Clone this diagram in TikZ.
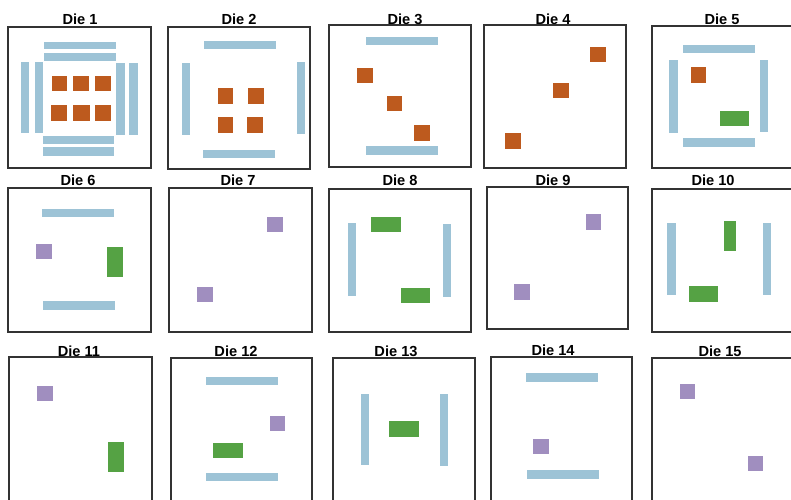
\documentclass[tikz,border=0pt]{standalone}
\usepackage{fontspec}
\setmainfont{Liberation Sans}
\definecolor{barblue}{HTML}{9DC3D6}
\definecolor{chiporange}{HTML}{BD5A1E}
\definecolor{chipgreen}{HTML}{55A244}
\definecolor{chippurple}{HTML}{A08EBF}
\definecolor{boxgray}{HTML}{333333}
\begin{document}
\begin{tikzpicture}[x=1pt,y=-1pt,
  diebox/.style={draw=boxgray,line width=1.4pt},
  bbar/.style={fill=barblue},
  osq/.style={fill=chiporange},
  gch/.style={fill=chipgreen},
  pch/.style={fill=chippurple},
  ttl/.style={font=\fontsize{14.6}{17}\selectfont\bfseries,anchor=base,inner sep=0pt}]
\useasboundingbox (0,0) rectangle (791,499);
\begin{scope}
\clip (0,0) rectangle (791,499);
% ---------- boxes ----------
\draw[diebox] (8,27) rectangle (151,168);
\draw[diebox] (168,27) rectangle (310,169);
\draw[diebox] (329,25) rectangle (471,167);
\draw[diebox] (484,25) rectangle (626,168);
\draw[diebox] (652,26) rectangle (800,168);
\draw[diebox] (8,188) rectangle (151,332);
\draw[diebox] (169,188) rectangle (312,332);
\draw[diebox] (329,189) rectangle (471,332);
\draw[diebox] (487,187) rectangle (628,329);
\draw[diebox] (652,189) rectangle (800,332);
\draw[diebox] (9,357) rectangle (152,510);
\draw[diebox] (171,358) rectangle (312,510);
\draw[diebox] (333,358) rectangle (475,510);
\draw[diebox] (491,357) rectangle (632,510);
\draw[diebox] (652,358) rectangle (800,510);
\end{scope}
% ---------- titles ----------
\node[ttl] (t1) at (80,24) {Die 1};
\node[ttl] (t2) at (239,24) {Die 2};
\node[ttl] (t3) at (405,24) {Die 3};
\node[ttl] (t4) at (553,24) {Die 4};
\node[ttl] (t5) at (722,24) {Die 5};
\node[ttl] (t6) at (78,185) {Die 6};
\node[ttl] (t7) at (238,185) {Die 7};
\node[ttl] (t8) at (400,185) {Die 8};
\node[ttl] (t9) at (553,185) {Die 9};
\node[ttl] (t10) at (713,185) {Die 10};
\node[ttl] (t11) at (79,356) {Die 11};
\node[ttl] (t12) at (236,356) {Die 12};
\node[ttl] (t13) at (396,356) {Die 13};
\node[ttl] (t14) at (553,355) {Die 14};
\node[ttl] (t15) at (720,356) {Die 15};
% ---------- Die 1 ----------
\fill[bbar] (44,42) rectangle (116,49);
\fill[bbar] (44,53) rectangle (116,61);
\fill[bbar] (43,136) rectangle (114,144);
\fill[bbar] (43,147) rectangle (114,156);
\fill[bbar] (21,62) rectangle (29,133);
\fill[bbar] (35,62) rectangle (43,133);
\fill[bbar] (116,63) rectangle (125,135);
\fill[bbar] (129,63) rectangle (138,135);
\fill[osq] (52,76) rectangle (67,91);
\fill[osq] (73,76) rectangle (89,91);
\fill[osq] (95,76) rectangle (111,91);
\fill[osq] (51,105) rectangle (67,121);
\fill[osq] (73,105) rectangle (90,121);
\fill[osq] (95,105) rectangle (111,121);
% ---------- Die 2 ----------
\fill[bbar] (204,41) rectangle (276,49);
\fill[bbar] (203,150) rectangle (275,158);
\fill[bbar] (182,63) rectangle (190,135);
\fill[bbar] (297,62) rectangle (305,134);
\fill[osq] (218,88) rectangle (233,104);
\fill[osq] (248,88) rectangle (264,104);
\fill[osq] (218,117) rectangle (233,133);
\fill[osq] (247,117) rectangle (263,133);
% ---------- Die 3 ----------
\fill[bbar] (366,37) rectangle (438,45);
\fill[bbar] (366,146) rectangle (438,155);
\fill[osq] (357,68) rectangle (373,83);
\fill[osq] (387,96) rectangle (402,111);
\fill[osq] (414,125) rectangle (430,141);
% ---------- Die 4 ----------
\fill[osq] (590,47) rectangle (606,62);
\fill[osq] (553,83) rectangle (569,98);
\fill[osq] (505,133) rectangle (521,149);
% ---------- Die 5 ----------
\fill[bbar] (683,45) rectangle (755,53);
\fill[bbar] (683,138) rectangle (755,147);
\fill[bbar] (669,60) rectangle (678,133);
\fill[bbar] (760,60) rectangle (768,132);
\fill[osq] (691,67) rectangle (706,83);
\fill[gch] (720,111) rectangle (749,126);
% ---------- Die 6 ----------
\fill[bbar] (42,209) rectangle (114,217);
\fill[bbar] (43,301) rectangle (115,310);
\fill[pch] (36,244) rectangle (52,259);
\fill[gch] (107,247) rectangle (123,277);
% ---------- Die 7 ----------
\fill[pch] (267,217) rectangle (283,232);
\fill[pch] (197,287) rectangle (213,302);
% ---------- Die 8 ----------
\fill[bbar] (348,223) rectangle (356,296);
\fill[bbar] (443,224) rectangle (451,297);
\fill[gch] (371,217) rectangle (401,232);
\fill[gch] (401,288) rectangle (430,303);
% ---------- Die 9 ----------
\fill[pch] (586,214) rectangle (601,230);
\fill[pch] (514,284) rectangle (530,300);
% ---------- Die 10 ----------
\fill[bbar] (667,223) rectangle (676,295);
\fill[bbar] (763,223) rectangle (771,295);
\fill[gch] (724,221) rectangle (736,251);
\fill[gch] (689,286) rectangle (718,302);
% ---------- Die 11 ----------
\fill[pch] (37,386) rectangle (53,401);
\fill[gch] (108,442) rectangle (124,472);
% ---------- Die 12 ----------
\fill[bbar] (206,377) rectangle (278,385);
\fill[bbar] (206,473) rectangle (278,481);
\fill[pch] (270,416) rectangle (285,431);
\fill[gch] (213,443) rectangle (243,458);
% ---------- Die 13 ----------
\fill[bbar] (361,394) rectangle (369,465);
\fill[bbar] (440,394) rectangle (448,466);
\fill[gch] (389,421) rectangle (419,437);
% ---------- Die 14 ----------
\fill[bbar] (526,373) rectangle (598,382);
\fill[bbar] (527,470) rectangle (599,479);
\fill[pch] (533,439) rectangle (549,454);
% ---------- Die 15 ----------
\fill[pch] (680,384) rectangle (695,399);
\fill[pch] (748,456) rectangle (763,471);
\end{tikzpicture}
\end{document}
